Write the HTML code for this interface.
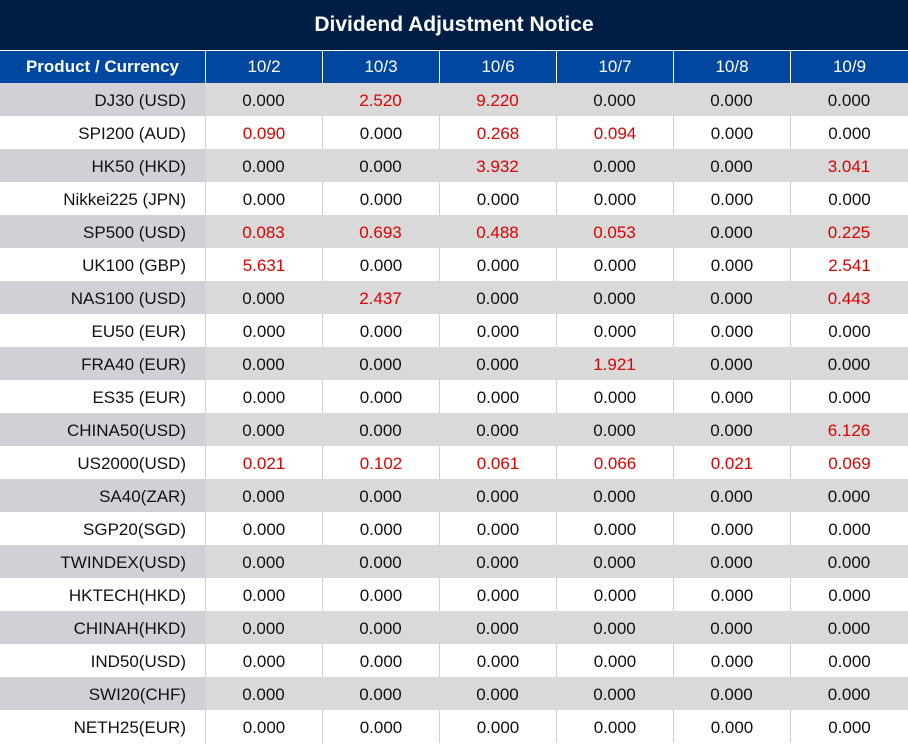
<!DOCTYPE html><html><head><style>
body{margin:0;width:908px;height:744px;background:#fff;font-family:"Liberation Sans",sans-serif;overflow:hidden}
.t{position:absolute;left:0;top:0;width:908px;height:50px;background:#001e44;color:#fff;font-weight:bold;font-size:21px;text-align:center;line-height:50px}
.r{position:absolute;left:0;width:908px;height:33px}
.c{position:absolute;top:0;height:33px;line-height:35px;text-align:center;font-size:17px;color:#111;box-sizing:border-box}
.h .c{background:#0047a0;color:#fff;border-left:1px solid #fff;top:1px;height:32px;line-height:32px}
.g .c{background:#d9d9d9}
.g .c.f{background:#cfd1d6}
.w .c{border-left:1px solid #d0d0d0}
.f{text-align:right;padding-right:19px;border-left:none!important}
.red{color:#e00000}
</style></head><body>
<div class="t">Dividend Adjustment Notice</div>
<div id="tb"></div>
<script>
var X=[0,205,322,439,556,673,790,908];
var d=[["DJ30 (USD)","0.000","2.520","9.220","0.000","0.000","0.000"],
["SPI200 (AUD)","0.090","0.000","0.268","0.094","0.000","0.000"],
["HK50 (HKD)","0.000","0.000","3.932","0.000","0.000","3.041"],
["Nikkei225 (JPN)","0.000","0.000","0.000","0.000","0.000","0.000"],
["SP500 (USD)","0.083","0.693","0.488","0.053","0.000","0.225"],
["UK100 (GBP)","5.631","0.000","0.000","0.000","0.000","2.541"],
["NAS100 (USD)","0.000","2.437","0.000","0.000","0.000","0.443"],
["EU50 (EUR)","0.000","0.000","0.000","0.000","0.000","0.000"],
["FRA40 (EUR)","0.000","0.000","0.000","1.921","0.000","0.000"],
["ES35 (EUR)","0.000","0.000","0.000","0.000","0.000","0.000"],
["CHINA50(USD)","0.000","0.000","0.000","0.000","0.000","6.126"],
["US2000(USD)","0.021","0.102","0.061","0.066","0.021","0.069"],
["SA40(ZAR)","0.000","0.000","0.000","0.000","0.000","0.000"],
["SGP20(SGD)","0.000","0.000","0.000","0.000","0.000","0.000"],
["TWINDEX(USD)","0.000","0.000","0.000","0.000","0.000","0.000"],
["HKTECH(HKD)","0.000","0.000","0.000","0.000","0.000","0.000"],
["CHINAH(HKD)","0.000","0.000","0.000","0.000","0.000","0.000"],
["IND50(USD)","0.000","0.000","0.000","0.000","0.000","0.000"],
["SWI20(CHF)","0.000","0.000","0.000","0.000","0.000","0.000"],
["NETH25(EUR)","0.000","0.000","0.000","0.000","0.000","0.000"]];
var h=["Product / Currency","10/2","10/3","10/6","10/7","10/8","10/9"];
function row(cls,top,vals,hdr){var s='<div class="r '+cls+'" style="top:'+top+'px">';
for(var i=0;i<7;i++){var k=(i==0?'c f':'c');if(!hdr&&i>0&&vals[i]!="0.000")k+=' red';
var st='left:'+X[i]+'px;width:'+(X[i+1]-X[i])+'px;';if(hdr&&i==0)st+='font-weight:bold;text-align:center;padding:0;border-left:none;font-size:17px;';
s+='<div class="'+k+'" style="'+st+'">'+vals[i]+'</div>';}
return s+'</div>';}
var o=row('h',50,h,1);
for(var j=0;j<20;j++)o+=row(j%2?'w':'g',83+j*33,d[j],0);
document.getElementById('tb').innerHTML=o;
</script>
</body></html>
